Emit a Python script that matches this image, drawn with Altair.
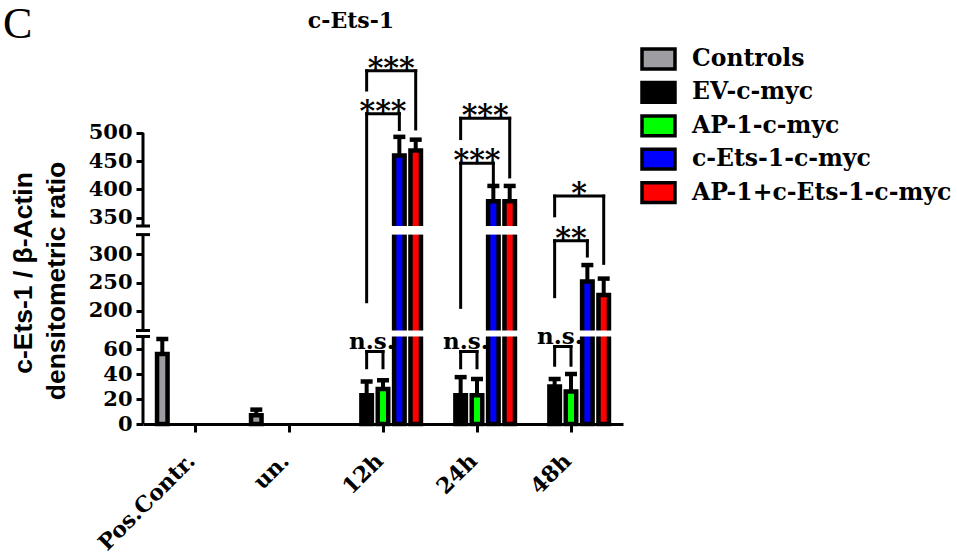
import json
import altair as alt
import pandas as pd

# ---------------- data ----------------
GROUPS = ["Pos.Contr.", "un.", "12h", "24h", "48h"]
SERIES = ["Controls", "EV-c-myc", "AP-1-c-myc", "c-Ets-1-c-myc", "AP-1+c-Ets-1-c-myc"]
COLORS = ["#9E9EA2", "#000000", "#00FF00", "#0000FF", "#FF0000"]

CONTROLS_MEAN = [56, 7, None, None, None]
CONTROLS_SD = [12, 4.5, None, None, None]
EV_MEAN = [None, None, 23, 23, 30]
EV_SD = [None, None, 11, 14.5, 6]
AP1_MEAN = [None, None, 28, 23, 26]
AP1_SD = [None, None, 7, 13, 14]
CETS_MEAN = [None, None, 460, 379, 252]
CETS_SD = [None, None, 33, 27, 29]
AP1CETS_MEAN = [None, None, 469, 379, 228]
AP1CETS_SD = [None, None, 19, 27, 29]

MEANS = [CONTROLS_MEAN, EV_MEAN, AP1_MEAN, CETS_MEAN, AP1CETS_MEAN]
SDS = [CONTROLS_SD, EV_SD, AP1_SD, CETS_SD, AP1CETS_SD]

Y_TICKS = [0, 20, 40, 60, 200, 250, 300, 350, 400, 450, 500]

# significance brackets (values in y-axis units)
BR_GROUP = ["12h", "12h", "24h", "24h", "48h", "48h", "12h", "24h", "48h"]
BR_LEFT = ["EV-c-myc"] * 9
BR_RIGHT = ["c-Ets-1-c-myc", "AP-1+c-Ets-1-c-myc", "c-Ets-1-c-myc", "AP-1+c-Ets-1-c-myc",
            "c-Ets-1-c-myc", "AP-1+c-Ets-1-c-myc", "AP-1-c-myc", "AP-1-c-myc", "AP-1-c-myc"]
BR_LEFT_END = [216, 576, 206, 490, 225, 353, 45, 45, 47]
BR_RIGHT_END = [506, 507, 411, 422, 297, 284, 45, 45, 47]
BR_TOP = [534, 610, 446, 526, 324, 388, 58, 58, 62]
BR_LABEL = ["***", "***", "***", "***", "**", "*", "n.s.", "n.s.", "n.s."]

# ---------------- broken y axis layout ----------------
SEG_VALUES = [(0, 70), (165, 335), (335, 500)]
SEG_PIXELS = [(0.0, 87.5), (93.5, 189.4), (198.0, 291.1)]
SLOT = 16.7 / 96.0  # dodge step in category units


def to_disp(v):
    for (v0, v1), (p0, p1) in reversed(list(zip(SEG_VALUES, SEG_PIXELS))):
        if v >= v0:
            return p0 + (v - v0) * (p1 - p0) / (v1 - v0)
    return 0.0


def pos(group, series):
    return GROUPS.index(group) + (SERIES.index(series) - 2) * SLOT


inv = ""
for (v0, v1), (p0, p1) in reversed(list(zip(SEG_VALUES, SEG_PIXELS))):
    inv += f"datum.value >= {p0 - 0.01} ? round({v0} + (datum.value - {p0}) * {(v1 - v0) / (p1 - p0)}) : "
inv += "0"

rows, gaps = [], []
for si, s in enumerate(SERIES):
    for gi, g in enumerate(GROUPS):
        m = MEANS[si][gi]
        if m is None:
            continue
        sd = SDS[si][gi]
        x = pos(g, s)
        rows.append({"series": s, "group": g, "x": x, "base": 0.0,
                     "d": to_disp(m), "e": to_disp(m + sd)})
        for k in range(len(SEG_VALUES) - 1):
            if m > SEG_VALUES[k][1]:
                gaps.append({"x": x, "lo": SEG_PIXELS[k][1], "hi": SEG_PIXELS[k + 1][0]})
bars = pd.DataFrame(rows)
gapdf = pd.DataFrame(gaps)

legs, horiz, stars, ns = [], [], [], []
for g, l, r, le, re_, t, lab in zip(BR_GROUP, BR_LEFT, BR_RIGHT, BR_LEFT_END, BR_RIGHT_END, BR_TOP, BR_LABEL):
    xl, xr = pos(g, l), pos(g, r)
    legs.append({"x": xl, "y": to_disp(le), "y2": to_disp(t)})
    legs.append({"x": xr, "y": to_disp(re_), "y2": to_disp(t)})
    horiz.append({"x": xl, "x2": xr, "y": to_disp(t)})
    item = {"x": (xl + xr) / 2, "y": to_disp(t), "t": lab}
    (ns if lab == "n.s." else stars).append(item)
legdf, hdf, stardf, nsdf = map(pd.DataFrame, (legs, horiz, stars, ns))

segdf = pd.DataFrame([{"y": p0, "y2": p1} for p0, p1 in SEG_PIXELS])
caps = []
for k in range(len(SEG_PIXELS) - 1):
    caps.append({"y": SEG_PIXELS[k][1]})
    caps.append({"y": SEG_PIXELS[k + 1][0]})
capdf = pd.DataFrame(caps)

SERIF = "DejaVu Serif"
W, H = 480, 384
xscale = alt.Scale(domain=[-0.5, 4.5], nice=False, zero=False)
yscale = alt.Scale(domain=[0, H], nice=False, zero=False)

xaxis = alt.Axis(values=list(range(len(GROUPS))), labelExpr=f"{json.dumps(GROUPS)}[round(datum.value)]",
                 title=None, grid=False, domainColor="black", domainWidth=3, tickColor="black",
                 tickWidth=3, tickSize=8, labelAngle=315, labelAlign="right", labelBaseline="middle",
                 labelFont=SERIF, labelFontWeight="bold", labelFontSize=22, labelColor="black",
                 labelPadding=25, labelOffset=-4, labelOverlap=False, labelFlush=False, labelBound=False)
yaxis = alt.Axis(values=[to_disp(t) for t in Y_TICKS], labelExpr=inv, title=None, grid=False,
                 domain=False, tickColor="black", tickWidth=3, tickSize=7, labelFont=SERIF,
                 labelFontWeight="bold", labelFontSize=21, labelColor="black", labelPadding=4,
                 labelOverlap=False, labelFlush=False, labelBound=False)


def X(field="x"):
    return alt.X(f"{field}:Q", scale=xscale, axis=xaxis)


def Y(field="y"):
    return alt.Y(f"{field}:Q", scale=yscale, axis=yaxis)


bar_layer = alt.Chart(bars).mark_bar(width=10.5, stroke="black", strokeWidth=4.5, opacity=1).encode(
    x=X("x"), y=Y("d"), y2="base:Q",
    color=alt.Color("series:N", scale=alt.Scale(domain=SERIES, range=COLORS),
                    legend=alt.Legend(title=None, orient="none", legendX=500, legendY=3.5,
                                      symbolType="M-1.2,-0.72H1.2V0.72H-1.2Z", symbolSize=756,
                                      symbolStrokeColor="black", symbolStrokeWidth=3.5,
                                      symbolOpacity=1, labelFont=SERIF, labelFontWeight="bold",
                                      labelFontSize=23.5, labelColor="black", labelLimit=0,
                                      labelOffset=18, rowPadding=-1.6, padding=0)),
)
gap_layer = alt.Chart(gapdf).mark_bar(width=17, color="white", opacity=1).encode(
    x=X(), y=Y("lo"), y2="hi:Q")
err_rule = alt.Chart(bars).mark_rule(color="black", strokeWidth=4, opacity=1).encode(
    x=X(), y=Y("d"), y2="e:Q")
err_cap = alt.Chart(bars).mark_tick(color="black", orient="horizontal", size=12, thickness=4.5,
                                    opacity=1).encode(x=X(), y=Y("e"))
leg_layer = alt.Chart(legdf).mark_rule(color="black", strokeWidth=3, strokeCap="square").encode(
    x=X(), y=Y(), y2="y2:Q")
h_layer = alt.Chart(hdf).mark_rule(color="black", strokeWidth=3, strokeCap="square").encode(
    x=X(), x2="x2:Q", y=Y())
star_layer = alt.Chart(stardf).mark_text(font=SERIF, fontWeight="bold", fontSize=30, baseline="alphabetic",
                                         dy=7, color="black").encode(x=X(), y=Y(), text="t:N")
ns_layer = alt.Chart(nsdf).mark_text(font=SERIF, fontWeight="bold", fontSize=23, baseline="alphabetic",
                                     dy=-3, dx=-3, color="black").encode(x=X(), y=Y(), text="t:N")
seg_layer = alt.Chart(segdf).mark_rule(color="black", strokeWidth=3).encode(
    x=alt.value(0), y=Y(), y2="y2:Q")
cap_layer = alt.Chart(capdf).mark_rule(color="black", strokeWidth=3).encode(
    x=alt.value(-7), x2=alt.value(7), y=Y())

title_layer = alt.Chart(pd.DataFrame({"t": ["c-Ets-1"]})).mark_text(
    font=SERIF, fontWeight="bold", fontSize=22, align="center", baseline="alphabetic", color="black").encode(
    x=alt.value(208), y=alt.value(-12), text="t:N")
panel_layer = alt.Chart(pd.DataFrame({"t": ["C"]})).mark_text(
    font="Liberation Serif", fontSize=44, align="left", baseline="alphabetic", color="black").encode(
    x=alt.value(-140), y=alt.value(-2), text="t:N")
ytitle1 = alt.Chart(pd.DataFrame({"t": ["c-Ets-1 / β-Actin"]})).mark_text(
    font="Liberation Sans", fontWeight="bold", fontSize=26.5, angle=270, align="center",
    baseline="middle", color="black").encode(x=alt.value(-119), y=alt.value(233), text="t:N")
ytitle2 = alt.Chart(pd.DataFrame({"t": ["densitometric ratio"]})).mark_text(
    font="Liberation Sans", fontWeight="bold", fontSize=26.5, angle=270, align="center",
    baseline="middle", color="black").encode(x=alt.value(-86), y=alt.value(241), text="t:N")

chart = alt.layer(
    bar_layer, gap_layer, err_rule, err_cap, leg_layer, h_layer, star_layer, ns_layer,
    seg_layer, cap_layer, title_layer, panel_layer, ytitle1, ytitle2,
).properties(
    width=W, height=H,
    padding={"left": 143, "top": 40, "right": 334, "bottom": 131},
    autosize=alt.AutoSizeParams(type="none"),
    background="white",
).configure_view(stroke=None)

chart.save("out.html", embed_options={"renderer": "svg", "actions": False})
